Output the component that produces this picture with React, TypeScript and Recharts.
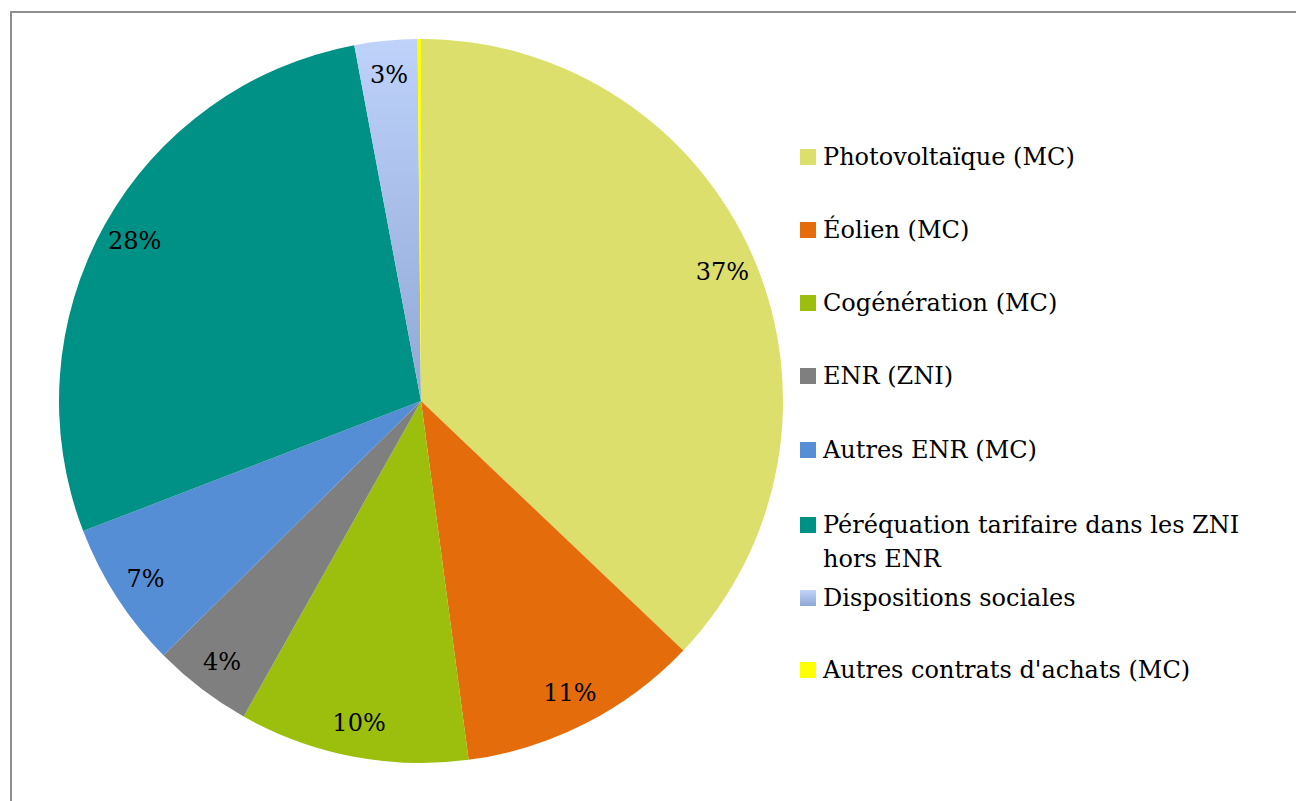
import React from "react";
import { PieChart, Pie, Cell } from "recharts";

const categories = [
  "Photovoltaïque (MC)",
  "Éolien (MC)",
  "Cogénération (MC)",
  "ENR (ZNI)",
  "Autres ENR (MC)",
  "Péréquation tarifaire dans les ZNI hors ENR",
  "Dispositions sociales",
  "Autres contrats d'achats (MC)",
];
const values = [37.1, 10.8, 10.25, 4.45, 6.55, 27.9, 2.8, 0.15];
const colors = ["#dcdf6b", "#e46c0a", "#9bbf0c", "#7f7f7f", "#558ed5", "#009186", "url(#dispGrad)", "#ffff00"];
const legendColors = ["#dcdf6b", "#e46c0a", "#9bbf0c", "#7f7f7f", "#558ed5", "#009186", "url(#dispGradL)", "#ffff00"];
const legendLines: string[][] = [
  ["Photovoltaïque (MC)"],
  ["Éolien (MC)"],
  ["Cogénération (MC)"],
  ["ENR (ZNI)"],
  ["Autres ENR (MC)"],
  ["Péréquation tarifaire dans les ZNI", "hors ENR"],
  ["Dispositions sociales"],
  ["Autres contrats d'achats (MC)"],
];

const data = categories.map((name, i) => ({ name, value: values[i] }));

const FONT = "'DejaVu Serif', serif";
const RAD = Math.PI / 180;

const renderLabel = (props: any) => {
  const { cx, cy, midAngle, percent } = props;
  if (percent < 0.01) return null;
  const r = 328;
  const x = cx + r * Math.cos(-midAngle * RAD);
  const y = cy + r * Math.sin(-midAngle * RAD);
  return (
    <text x={x} y={y} textAnchor="middle" dominantBaseline="central" fontFamily={FONT} fontSize={24} fill="#000">
      {Math.round(percent * 100) + "%"}
    </text>
  );
};

const legendBaselines = [165, 238, 311, 384, 458, 533, 606, 678];

const LegendBlock = () => (
  <svg width={496} height={801} style={{ position: "absolute", left: 800, top: 0, overflow: "visible" }}>
    <defs>
      <linearGradient id="dispGradL" x1="0" y1="0" x2="0" y2="1">
        <stop offset="0%" stopColor="#c2d4fa" />
        <stop offset="100%" stopColor="#8ea7d6" />
      </linearGradient>
    </defs>
    {legendLines.map((lines, i) => (
      <g key={i}>
        <rect x={0} y={legendBaselines[i] - 16} width={16} height={16} fill={legendColors[i]} />
        {lines.map((t, j) => (
          <text key={j} x={23} y={legendBaselines[i] + j * 34} fontFamily={FONT} fontSize={24} fill="#000">
            {t}
          </text>
        ))}
      </g>
    ))}
  </svg>
);

export default function App() {
  return (
    <div style={{ position: "absolute", left: 0, top: 0, width: 1296, height: 801, background: "#fff", overflow: "hidden" }}>
      <div
        style={{
          position: "absolute",
          left: 10,
          top: 11,
          width: 1400,
          height: 900,
          borderLeft: "2px solid #8e8e8e",
          borderTop: "2px solid #8e8e8e",
        }}
      />
      <div style={{ position: "absolute", left: 0, top: 0 }}>
        <PieChart width={1296} height={801} margin={{ top: 0, right: 0, bottom: 0, left: 0 }}>
          <defs>
            <linearGradient id="dispGrad" x1="0" y1="0" x2="0" y2="1">
              <stop offset="0%" stopColor="#bed2fa" />
              <stop offset="100%" stopColor="#90a8d6" />
            </linearGradient>
          </defs>
          <Pie
            data={data}
            dataKey="value"
            nameKey="name"
            cx={421}
            cy={401}
            outerRadius={362}
            startAngle={90}
            endAngle={-270}
            stroke="none"
            label={renderLabel}
            labelLine={false}
            isAnimationActive={false}
          >
            {data.map((d, i) => (
              <Cell key={d.name} fill={colors[i]} stroke="none" />
            ))}
          </Pie>
        </PieChart>
      </div>
      <LegendBlock />
    </div>
  );
}
